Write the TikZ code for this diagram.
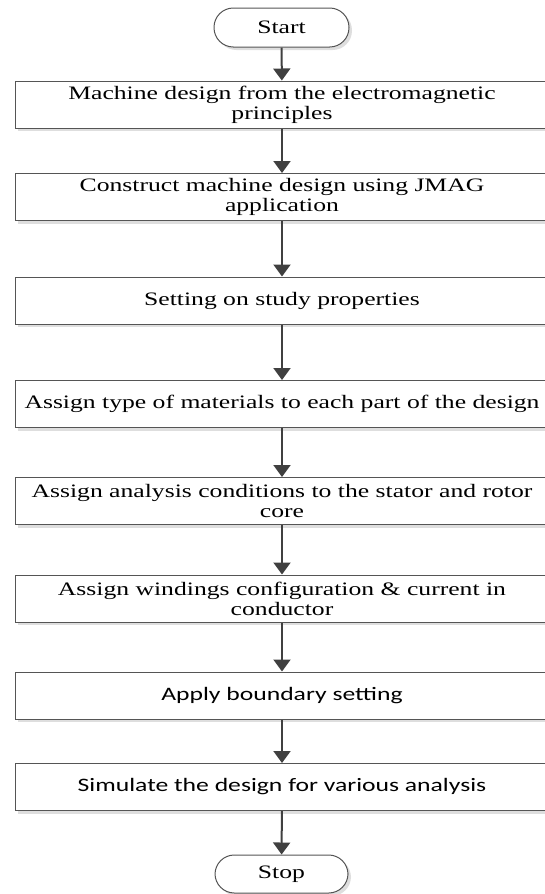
\documentclass[tikz,border=0pt]{standalone}
\usepackage{fontspec}
\setmainfont{Liberation Serif}[FakeStretch=1.35]
\newfontfamily\sansf{Carlito}[FakeStretch=1.35]
\usetikzlibrary{arrows.meta,shadows}
\definecolor{boxgray}{HTML}{555555}
\definecolor{arrgray}{HTML}{404040}
\definecolor{shadowgray}{HTML}{DEDEDE}
\begin{document}
\begin{tikzpicture}[x=0.75pt,y=-0.75pt,
  box/.style={draw=boxgray, line width=0.75pt, fill=white, minimum width=400.5pt,
    minimum height=35.25pt, inner sep=0pt, align=center,
    font=\fontsize{14.25}{15}\selectfont, text=black,
    drop shadow={shadow xshift=2.25pt,shadow yshift=-2.25pt,fill=shadowgray,opacity=1}},
  term/.style={box, rounded corners=14.5pt, minimum width=101.25pt, minimum height=29.25pt},
  arr/.style={draw=arrgray, line width=1.5pt, -{Triangle[width=12.75pt,length=9pt]}}]
\useasboundingbox (0,0) rectangle (545,894);
\node[term] (start) at (281.5,27.5) {Start};
\node[box] (b1) at (282,104.5) {Machine design from the electromagnetic\\principles};
\node[box] (b2) at (282,197) {Construct machine design using JMAG\\application};
\node[box] (b3) at (282,300.5) {Setting on study properties};
\node[box] (b4) at (282,404) {Assign type of materials to each part of the design};
\node[box] (b5) at (282,501) {Assign analysis conditions to the stator and rotor\\core};
\node[box] (b6) at (282,598.5) {Assign windings configuration \& current in\\conductor};
\node[box, font=\sansf\fontsize{14.25}{15}\selectfont] (b7) at (282,695.5) {Apply boundary setting};
\node[box, font=\sansf\fontsize{14.25}{15}\selectfont] (b8) at (282,787) {Simulate the design for various analysis};
\node[term, minimum width=99.75pt, minimum height=28.5pt] (stop) at (281.5,874) {Stop};
\draw[arr] (start) -- (b1);
\draw[arr] (b1) -- (b2);
\draw[arr] (b2) -- (b3);
\draw[arr] (b3) -- (b4);
\draw[arr] (b4) -- (b5);
\draw[arr] (b5) -- (b6);
\draw[arr] (b6) -- (b7);
\draw[arr] (b7) -- (b8);
\draw[arr] (b8) -- (stop);
\end{tikzpicture}
\end{document}
